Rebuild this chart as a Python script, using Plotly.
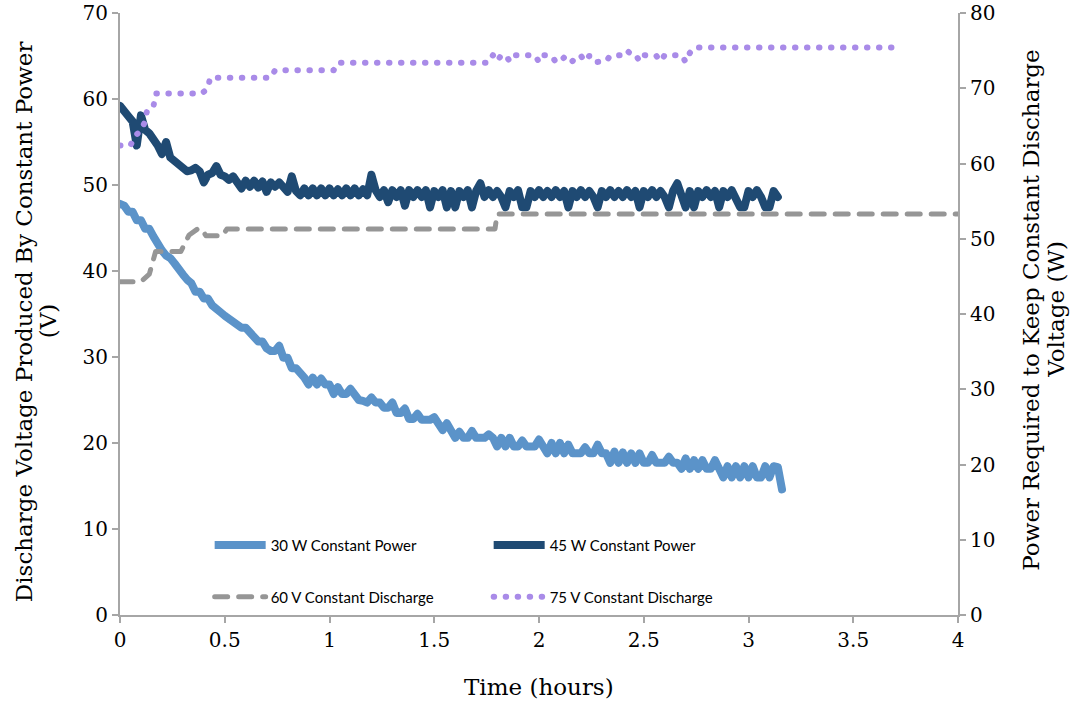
import plotly.graph_objects as go

# Logged samples of the two constant-power runs (one reading every 0.02 h)
SAMPLE_INTERVAL_H = 0.02

volts_30w = [
    47.8, 47.6, 46.9, 46.9, 45.9, 45.9, 44.9, 44.9, 44.0, 43.0,
    42.4, 41.8, 41.5, 40.9, 40.1, 39.6, 39.0, 38.6, 37.6, 37.6,
    36.8, 36.8, 36.0, 35.7, 35.2, 34.8, 34.5, 34.0, 33.9, 33.4,
    33.4, 32.8, 32.4, 31.8, 31.8, 31.0, 30.7, 30.7, 31.3, 29.9,
    29.9, 28.7, 28.7, 28.2, 27.6, 26.8, 27.6, 26.8, 27.5, 26.8,
    26.8, 25.7, 26.5, 25.7, 25.7, 26.3, 25.7, 25.0, 24.9, 24.7,
    25.3, 24.7, 24.7, 24.1, 24.1, 24.7, 23.5, 23.5, 24.0, 22.8,
    22.8, 23.4, 22.7, 22.7, 22.7, 23.0, 22.2, 21.5, 22.3, 21.5,
    20.6, 21.3, 20.6, 20.6, 21.4, 20.6, 20.6, 20.6, 21.0, 20.6,
    19.6, 20.6, 19.6, 20.6, 19.6, 19.6, 20.3, 19.6, 19.6, 19.6,
    20.4, 19.6, 18.8, 20.0, 18.8, 20.0, 18.8, 19.8, 18.8, 18.8,
    18.8, 19.5, 18.8, 18.8, 19.8, 18.8, 18.8, 17.7, 19.0, 17.7,
    18.9, 17.7, 18.8, 17.7, 18.8, 17.7, 17.7, 18.6, 17.7, 17.7,
    17.7, 18.4, 17.7, 17.7, 17.0, 18.2, 17.0, 18.0, 17.0, 18.0,
    17.0, 17.0, 18.0, 17.0, 16.0, 17.3, 16.0, 17.3, 16.0, 17.3,
    16.0, 17.3, 16.0, 16.0, 17.3, 16.0, 17.3, 17.2, 14.6,
]

volts_45w = [
    59.2, 58.4, 58.0, 57.4, 54.6, 58.1, 56.4, 56.0, 55.4, 54.6,
    53.6, 55.0, 53.2, 52.8, 52.4, 52.3, 51.6, 51.7, 52.0, 51.6,
    50.3, 51.2, 51.4, 52.2, 51.2, 51.0, 50.6, 51.0, 50.4, 49.6,
    50.5, 49.8, 50.5, 49.7, 50.4, 49.2, 50.3, 49.8, 50.3, 49.7,
    49.2, 51.0, 49.3, 48.8, 49.6, 48.8, 49.6, 48.8, 49.6, 48.8,
    49.6, 48.8, 49.5, 48.8, 49.6, 48.8, 49.6, 48.8, 49.5, 48.8,
    51.2, 49.4, 48.6, 49.4, 48.0, 49.4, 48.6, 49.4, 47.6, 49.4,
    48.6, 49.4, 48.6, 49.4, 47.4, 49.3, 48.6, 49.4, 47.4, 49.3,
    47.4, 49.3, 48.6, 49.4, 47.4, 49.3, 50.2, 48.6, 49.4, 48.6,
    49.3, 48.6, 47.4, 49.3, 48.6, 49.4, 47.4, 47.4, 49.3, 48.6,
    49.4, 48.6, 49.3, 48.6, 49.4, 48.6, 49.3, 47.4, 49.3, 48.6,
    49.4, 48.6, 49.3, 48.6, 47.4, 49.3, 48.6, 49.4, 48.6, 49.3,
    48.6, 49.4, 48.6, 49.3, 47.4, 49.3, 48.6, 49.4, 48.6, 49.3,
    48.6, 47.4, 49.3, 50.2, 48.6, 47.4, 49.3, 47.4, 49.3, 48.6,
    49.4, 48.6, 49.3, 47.4, 49.3, 48.6, 49.4, 48.6, 47.4, 47.4,
    49.3, 48.6, 49.4, 48.6, 47.4, 47.4, 49.3, 48.6,
]

time_30w = [round(i * SAMPLE_INTERVAL_H, 2) for i in range(len(volts_30w))]
time_45w = [round(i * SAMPLE_INTERVAL_H, 2) for i in range(len(volts_45w))]

# Power drawn by the constant-voltage runs (right axis)
time_60v = [0.0, 0.10, 0.14, 0.17, 0.29, 0.33, 0.37, 0.39, 0.41, 0.49, 0.51, 1.79, 1.80, 4.0]
watts_60v = [44.3, 44.3, 45.3, 48.3, 48.3, 50.5, 51.3, 51.3, 50.4, 50.4, 51.3, 51.3, 53.3, 53.3]

time_75v = [
    0.0, 0.05, 0.07, 0.10, 0.12, 0.13, 0.16, 0.17, 0.39, 0.42, 0.43, 0.72, 0.74, 1.02, 1.04, 1.76,
    1.78, 1.80, 1.82, 1.84, 1.86, 1.88, 1.90, 1.92, 1.94, 1.96, 1.98,
    2.00, 2.02, 2.04, 2.06, 2.08, 2.10, 2.12, 2.14, 2.16, 2.18,
    2.20, 2.22, 2.24, 2.26, 2.28, 2.30, 2.32, 2.34, 2.36, 2.38,
    2.40, 2.42, 2.44, 2.46, 2.48, 2.50, 2.52, 2.54, 2.56, 2.58,
    2.60, 2.62, 2.64, 2.66, 2.68, 2.70, 2.72, 2.74, 3.72,
]
watts_75v = [
    62.4, 62.4, 63.6, 64.4, 65.6, 67.2, 67.6, 69.3, 69.3, 70.0, 71.4, 71.4, 72.4, 72.4, 73.4, 73.4,
    74.4, 73.6, 74.4, 74.4, 73.6, 74.4, 74.4, 74.4, 74.4, 74.4, 74.4,
    73.5, 74.4, 74.4, 74.3, 73.5, 73.5, 74.1, 74.3, 73.6, 74.3,
    74.3, 73.6, 74.3, 74.3, 73.5, 73.6, 73.6, 74.3, 74.4, 74.4,
    74.4, 75.0, 74.5, 74.5, 73.6, 74.4, 74.4, 74.4, 74.3, 73.6,
    74.4, 74.4, 74.4, 74.4, 74.4, 73.5, 74.7, 75.4, 75.4,
]

x_ticks = [0, 0.5, 1, 1.5, 2, 2.5, 3, 3.5, 4]

AXIS_GRAY = "#A6A6A6"
SERIF = "DejaVu Serif"
TITLE_SIZE = 23

fig = go.Figure()

fig.add_trace(go.Scatter(
    x=time_30w, y=volts_30w, mode="lines", name="30 W Constant Power",
    line=dict(color="#5B93C9", width=8), legend="legend",
))
fig.add_trace(go.Scatter(
    x=time_45w, y=volts_45w, mode="lines", name="45 W Constant Power",
    line=dict(color="#1F4A73", width=8), legend="legend",
))
fig.add_trace(go.Scatter(
    x=time_60v, y=watts_60v, mode="lines", name="60 V Constant Discharge", yaxis="y2",
    line=dict(color="#969696", width=5, dash="13px,11px"), legend="legend2",
))
fig.add_trace(go.Scatter(
    x=time_75v, y=watts_75v, mode="lines", name="75 V Constant Discharge", yaxis="y2",
    line=dict(color="#A98BE8", width=6, dash="0.5px,11.5px"), legend="legend2",
))

axis_common = dict(
    showline=True, linecolor=AXIS_GRAY, linewidth=2,
    ticks="outside", ticklen=6, tickwidth=2, tickcolor=AXIS_GRAY,
    showgrid=False, zeroline=False, ticklabeloverflow="allow", automargin=False,
    tickfont=dict(family=SERIF, size=20, color="black"),
)

legend_common = dict(
    orientation="h", xanchor="left", yanchor="middle",
    x=0.107, entrywidth=213, entrywidthmode="pixels", itemwidth=51,
    bgcolor="rgba(0,0,0,0)", font=dict(family="Lato", size=15, color="black"),
    traceorder="normal",
)

# Axis titles, placed line by line beside the axes
title_font = dict(family=SERIF, size=TITLE_SIZE, color="black")
titles = [
    dict(text="Discharge Voltage Produced By Constant Power", x=-0.1146, y=0.488, textangle=-90),
    dict(text="(V)", x=-0.0859, y=0.488, textangle=-90),
    dict(text="Power Required to Keep Constant Discharge", x=1.0870, y=0.507, textangle=-90),
    dict(text="Voltage (W)", x=1.1170, y=0.507, textangle=-90),
    dict(text="Time (hours)", x=0.5, y=-0.119, textangle=0),
]
annotations = [
    dict(xref="paper", yref="paper", xanchor="center", yanchor="middle",
         showarrow=False, font=title_font, **t)
    for t in titles
]

fig.update_layout(
    width=1086, height=708,
    margin=dict(l=120, r=128, t=13, b=93),
    paper_bgcolor="white", plot_bgcolor="white",
    font=dict(family=SERIF, size=20, color="black"),
    xaxis=dict(range=[0, 4], tickvals=x_ticks, ticktext=[str(v) for v in x_ticks], **axis_common),
    yaxis=dict(range=[0, 70], dtick=10, **axis_common),
    yaxis2=dict(range=[0, 80], dtick=10, overlaying="y", side="right", **axis_common),
    legend=dict(y=0.1157, **legend_common),
    legend2=dict(y=0.0298, **legend_common),
    showlegend=True,
    annotations=annotations,
)

# Rounded caps and joins for the plotted lines and the dashed/dotted legend samples
round_caps = """
var gd = document.querySelectorAll('.js-plotly-plot')[0];
function roundCaps() {
  gd.querySelectorAll('.scatterlayer path.js-line, g.legend2 path.js-line').forEach(function (p) {
    p.style.strokeLinecap = 'round';
    p.style.strokeLinejoin = 'round';
  });
}
roundCaps();
gd.on('plotly_afterplot', roundCaps);
"""

fig.write_html("out.html", post_script=round_caps)
